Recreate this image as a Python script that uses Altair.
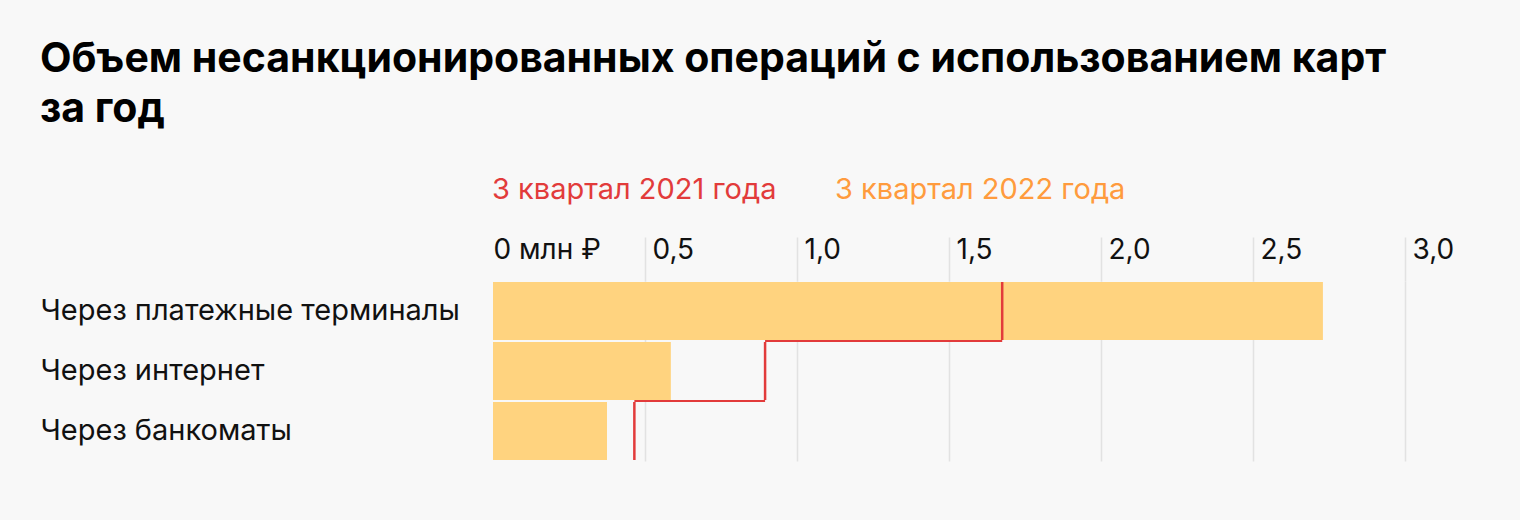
import altair as alt
import pandas as pd

categories = ["Через платежные терминалы", "Через интернет", "Через банкоматы"]
values_2022 = [2.73, 0.585, 0.375]
values_2021 = [1.675, 0.895, 0.465]
series_2022 = "3 квартал 2022 года"
series_2021 = "3 квартал 2021 года"
tick_values = [0, 0.5, 1.0, 1.5, 2.0, 2.5, 3.0]

FONT = "Inter"
BAR = "#FFD37F"
RED = "#E23B3B"
ORANGE = "#FF9B3D"
GRID = "#E2E2E2"

bars_df = pd.DataFrame({"cat": categories, "value": values_2022, "series": series_2022})
vert_df = pd.DataFrame({"cat": categories, "value": values_2021, "series": series_2021})
horiz_df = pd.DataFrame({
    "cat": categories[1:],
    "x1": values_2021[:-1],
    "x2": values_2021[1:],
    "series": series_2021,
})

x_scale = alt.Scale(domain=[0, 3.0], nice=False)
y_scale = alt.Scale(domain=categories, paddingInner=1 / 30, paddingOuter=1 / 60)

x_axis = alt.Axis(
    orient="top",
    values=tick_values,
    labelExpr="datum.value == 0 ? '0 млн ₽' : replace(format(datum.value, '.1f'), '.', ',')",
    domain=False,
    ticks=True,
    tickSize=44,
    tickColor=GRID,
    tickWidth=1.5,
    tickOpacity={"condition": {"test": "datum.value == 0", "value": 0}, "value": 1},
    grid=True,
    gridColor=GRID,
    gridWidth=1.5,
    gridOpacity={"condition": {"test": "datum.value == 0", "value": 0}, "value": 1},
    labelAlign="left",
    labelBaseline="alphabetic",
    labelPadding=-21,
    labelOffset={"condition": {"test": "datum.value == 0", "value": 0}, "value": 7},
    labelFont=FONT,
    labelFontSize=28,
    labelColor="#111111",
    title=None,
)

y_axis = alt.Axis(
    orient="left",
    domain=False,
    ticks=False,
    labelAlign="left",
    labelPadding=453,
    labelLimit=600,
    labelFont=FONT,
    labelFontSize=29,
    labelColor="#111111",
    title=None,
)

legend_common = dict(
    orient="none",
    title=None,
    symbolSize=0,
    symbolOpacity=0,
    symbolStrokeWidth=0,
    labelOffset=0,
    labelLimit=500,
    padding=0,
    labelFont=FONT,
    labelFontSize=29,
)

bars = alt.Chart(bars_df).mark_bar().encode(
    x=alt.X("value:Q", scale=x_scale, axis=x_axis),
    y=alt.Y("cat:N", scale=y_scale, axis=y_axis, sort=categories),
    fill=alt.Fill(
        "series:N",
        scale=alt.Scale(domain=[series_2022], range=[BAR]),
        legend=alt.Legend(legendX=313, legendY=-106, labelColor=ORANGE, **legend_common),
    ),
)

vert = alt.Chart(vert_df).mark_bar(strokeWidth=2.5, fillOpacity=0).encode(
    x=alt.X("value:Q", scale=x_scale),
    x2="value:Q",
    y=alt.Y("cat:N", scale=y_scale, sort=categories),
    stroke=alt.Stroke(
        "series:N",
        scale=alt.Scale(domain=[series_2021], range=[RED]),
        legend=alt.Legend(legendX=-30, legendY=-106, labelColor=RED, **legend_common),
    ),
)

horiz = alt.Chart(horiz_df).mark_rule(strokeWidth=2, yOffset=-1).encode(
    x=alt.X("x1:Q", scale=x_scale),
    x2="x2:Q",
    y=alt.Y("cat:N", scale=y_scale, sort=categories, bandPosition=0),
    stroke=alt.Stroke("series:N"),
)

chart = alt.layer(bars, vert, horiz).properties(
    width=912,
    height=180,
    autosize=alt.AutoSizeParams(type="none"),
    padding={"left": 493, "top": 281, "right": 115, "bottom": 59},
    background="#F8F8F8",
    title=alt.TitleParams(
        text=["Объем несанкционированных операций с использованием карт", "за год"],
        anchor="start",
        frame="group",
        dx=-453,
        offset=44,
        font=FONT,
        fontSize=41,
        fontWeight="bold",
        color="#000000",
        lineHeight=50,
    ),
).configure_view(stroke=None)

chart.save("out.html", embed_options={"renderer": "svg", "actions": False})
